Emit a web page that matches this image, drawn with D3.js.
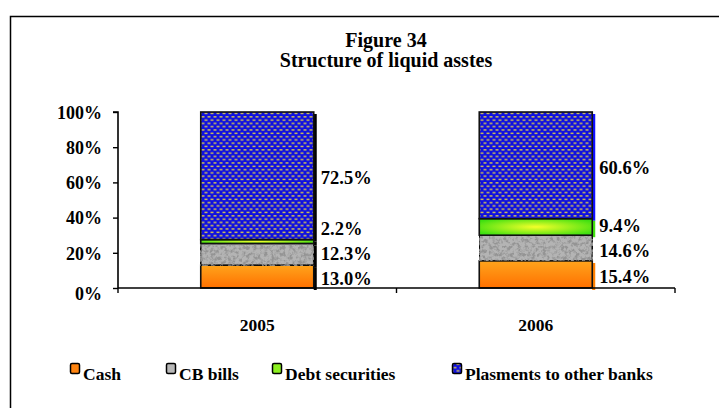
<!DOCTYPE html>
<html><head><meta charset="utf-8">
<script src="https://cdn.jsdelivr.net/npm/d3@7"></script>
<style>body{margin:0;background:#fff}svg{display:block;font-family:"Liberation Serif","Times New Roman",serif;font-weight:bold}</style>
</head><body>
<script>
const categories = ["2005", "2006"];
const seriesNames = ["Cash", "CB bills", "Debt securities", "Plasments to other banks"];
const cash = [13.0, 15.4];
const cbBills = [12.3, 14.6];
const debtSecurities = [2.2, 9.4];
const plasments = [72.5, 60.6];
const yTicks = [0, 20, 40, 60, 80, 100];
const titleLines = ["Figure 34", "Structure of liquid asstes"];

const W = 719, H = 408;
const svg = d3.select("body").append("svg").attr("width", W).attr("height", H);
const defs = svg.append("defs");

// gradients & patterns
const og = defs.append("linearGradient").attr("id","gOrange").attr("x1",0).attr("y1",0).attr("x2",0).attr("y2",1);
og.append("stop").attr("offset","0%").attr("stop-color","#ffa41c");
og.append("stop").attr("offset","100%").attr("stop-color","#ff7000");
const gg = defs.append("radialGradient").attr("id","gGreen").attr("cx","50%").attr("cy","50%").attr("r","60%");
gg.append("stop").attr("offset","0%").attr("stop-color","#f4ff2a");
gg.append("stop").attr("offset","100%").attr("stop-color","#3ee010");
const bp = defs.append("pattern").attr("id","pBlue").attr("patternUnits","userSpaceOnUse").attr("width",6).attr("height",6.6);
bp.append("rect").attr("width",6).attr("height",6.6).attr("fill","#1010e0");
bp.append("rect").attr("x",0.5).attr("y",0.6).attr("width",3).attr("height",1.4).attr("fill","#d8c850");
bp.append("rect").attr("x",3.5).attr("y",3.9).attr("width",3).attr("height",1.4).attr("fill","#d8c850");
bp.append("rect").attr("x",-2.5).attr("y",3.9).attr("width",3).attr("height",1.4).attr("fill","#d8c850");
const gf = defs.append("filter").attr("id","fGranite").attr("x",0).attr("y",0).attr("width",1).attr("height",1);
gf.append("feTurbulence").attr("type","fractalNoise").attr("baseFrequency",0.28).attr("numOctaves",3).attr("seed",4).attr("result","n");
gf.append("feColorMatrix").attr("in","n").attr("type","matrix")
  .attr("values","0 0 0 0 0.3  0 0 0 0 0.3  0 0 0 0 0.3  -4 0 0 0 2.3").attr("result","dark");
gf.append("feComposite").attr("in","dark").attr("in2","SourceGraphic").attr("operator","atop");

const fills = ["url(#gOrange)", "#b4b4b4", "url(#gGreen)", "url(#pBlue)"];
const edgeFills = ["#ff8000", "#ffffff", "#40e010", "#1010ff"];
const legendFills = ["#ff8410", "#b8b8b8", "#8cf020", "url(#pBlue)"];

// frame
svg.append("rect").attr("x",10.5).attr("y",16.5).attr("width",730).attr("height",420)
  .attr("fill","none").attr("stroke","#000").attr("stroke-width",1.5);

// titles
svg.selectAll("text.title").data(titleLines).join("text").attr("class","title")
  .attr("x",386).attr("y",(d,i)=>47+i*20).attr("text-anchor","middle").attr("font-size",20).text(d=>d);

const margin = {left:118, right:675, top:112, bottom:288};
const x = d3.scaleBand().domain(categories).range([margin.left, margin.right]).paddingInner(0).paddingOuter(0);
const y = d3.scaleLinear().domain([0,100]).range([margin.bottom, margin.top]);
const barW = 113;

const data = categories.map((c,i)=>({cat:c, Cash:cash[i], "CB bills":cbBills[i], "Debt securities":debtSecurities[i], "Plasments to other banks":plasments[i]}));
const stack = d3.stack().keys(seriesNames)(data);

const g = svg.append("g");
// right edge strip (black on first bar, coloured on second, as in the source)
stack.forEach((layer, si)=>{
  g.selectAll(null).data(layer).join("rect")
    .attr("x", d=>x(d.data.cat)+x.bandwidth()/2+barW/2)
    .attr("y", d=>y(d[1])+2)
    .attr("width",3)
    .attr("height", d=>Math.max(0,y(d[0])-y(d[1])))
    .attr("fill", (d,i)=> i===0 ? "#000" : edgeFills[si]);
});
stack.forEach((layer, si)=>{
  g.selectAll(null).data(layer).join("rect")
    .attr("x", d=>x(d.data.cat)+x.bandwidth()/2-barW/2)
    .attr("y", d=>y(d[1]))
    .attr("width", barW)
    .attr("height", d=>y(d[0])-y(d[1]))
    .attr("fill", fills[si])
    .attr("filter", si===1 ? "url(#fGranite)" : null)
    .attr("stroke","#111").attr("stroke-width",1.6);
});

// axes
const yAxis = d3.axisLeft(y).tickValues(yTicks).tickSize(5).tickFormat(d=>d+"%");
const ya = svg.append("g").attr("transform",`translate(${margin.left},0)`).call(yAxis);
ya.attr("font-family",null).attr("font-size",null);
ya.select(".domain").attr("stroke","#000").attr("stroke-width",1.6).attr("d",`M-5,${y(100)}H0V${y(0)}`);
ya.selectAll(".tick line").attr("stroke","#000").attr("stroke-width",1.4);
ya.selectAll(".tick text").attr("font-size",18).attr("fill","#000").attr("x",-16)
  .attr("dy", d=>d===0?"0.65em":"0.35em");

const xa = svg.append("g").attr("transform",`translate(0,${margin.bottom})`);
xa.append("path").attr("d",`M${margin.left},0H${margin.right}`).attr("stroke","#000").attr("stroke-width",1.6);
const xTickPos = [margin.left, ...categories.slice(1).map(c=>x(c)), margin.right];
xa.selectAll("line").data(xTickPos).join("line").attr("x1",d=>d).attr("x2",d=>d).attr("y1",0).attr("y2",5).attr("stroke","#000").attr("stroke-width",1.4);
xa.selectAll("text").data(categories).join("text")
  .attr("x", d=>x(d)+x.bandwidth()/2).attr("y",43).attr("text-anchor","middle").attr("font-size",17.5).text(d=>d);

// data labels (segment midpoint, pushed up to avoid overlap)
categories.forEach((c,ci)=>{
  let prev = Infinity;
  const lx = x(c)+x.bandwidth()/2+barW/2+7;
  stack.forEach((layer)=>{
    const d = layer[ci];
    let cy = y((d[0]+d[1])/2) + 2;
    if (prev - cy < 25) cy = prev - 25;
    prev = cy;
    svg.append("text").attr("x",lx).attr("y",cy+6.5).attr("font-size",18.5).text(d3.format(".1f")(d[1]-d[0])+"%");
  });
});

// legend
const legX = [70, 166, 272, 452];
const lg = svg.append("g");
seriesNames.forEach((n,i)=>{
  lg.append("rect").attr("x",legX[i]+0.5).attr("y",363.5).attr("width",9).attr("height",10).attr("rx",1.5)
    .attr("fill",legendFills[i]).attr("stroke","#000").attr("stroke-width",1.5);
  lg.append("text").attr("x",legX[i]+13).attr("y",380).attr("font-size",17.5).text(n);
});
</script>
</body></html>
